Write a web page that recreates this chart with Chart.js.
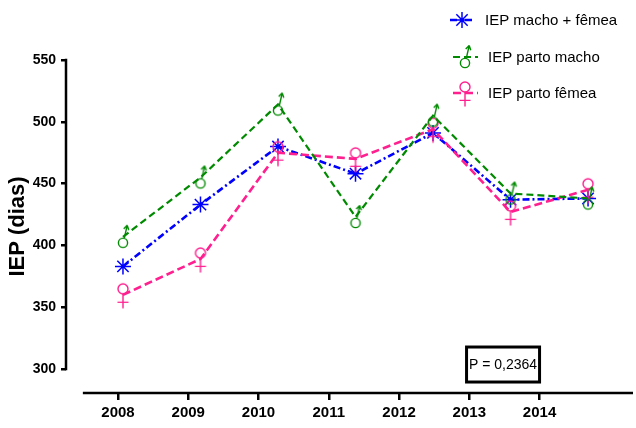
<!DOCTYPE html>
<html><head><meta charset="utf-8">
<script src="https://cdn.jsdelivr.net/npm/chart.js@4"></script>
<style>html,body{margin:0;padding:0;background:#fff}#wrap{width:636px;height:428px;position:relative}</style>
</head><body><div id="wrap"><canvas id="c" width="636" height="428"></canvas></div>
<script>
const years = [2008, 2009, 2010, 2011, 2012, 2013, 2014];
const iepMachoFemea = [383, 433, 480, 458, 491, 437, 438];
const iepPartoMacho = [407, 455, 514, 423, 505, 442, 438];
const iepPartoFemea = [360, 389, 475, 470, 494, 427, 445];
const yTicks = [300, 350, 400, 450, 500, 550];
const seriesLabels = ['IEP macho + fêmea', 'IEP parto macho', 'IEP parto fêmea'];
const yTitle = 'IEP (dias)';
const pText = 'P = 0,2364';

const SANS = "'Liberation Sans', Arial, sans-serif";
const BLUE = '#0000ff', GREEN = '#008a00', PINK = '#ff1f8f';

function maleGlyph(color) {
  const c = document.createElement('canvas'); c.width = 26; c.height = 34;
  const g = c.getContext('2d'); g.strokeStyle = color; g.lineWidth = 1.4;
  const cx = 13, cy = 23, r = 4.6;
  g.beginPath(); g.arc(cx, cy, r, 0, Math.PI * 2); g.stroke();
  const sx = cx + r * Math.cos(-1.3), sy = cy + r * Math.sin(-1.3);
  const tx = cx + 4.2, ty = cy - 17.5;
  const ang = Math.atan2(ty - sy, tx - sx);
  g.beginPath(); g.moveTo(sx, sy); g.lineTo(tx, ty);
  g.moveTo(tx, ty); g.lineTo(tx - 5 * Math.cos(ang - 0.55), ty - 5 * Math.sin(ang - 0.55));
  g.moveTo(tx, ty); g.lineTo(tx - 5 * Math.cos(ang + 0.55), ty - 5 * Math.sin(ang + 0.55));
  g.stroke();
  return c;
}
function femaleGlyph(color) {
  const c = document.createElement('canvas'); c.width = 24; c.height = 44;
  const g = c.getContext('2d'); g.strokeStyle = color; g.lineWidth = 1.4;
  const cx = 12, cy = 16, r = 5;
  g.beginPath(); g.arc(cx, cy, r, 0, Math.PI * 2); g.stroke();
  g.beginPath(); g.moveTo(cx, cy + r); g.lineTo(cx, cy + 19.5);
  g.moveTo(cx - 5.5, cy + 13.4); g.lineTo(cx + 5.5, cy + 13.4);
  g.stroke();
  return c;
}

const mk = (label, data, color, dash, width, style, radius) => ({
  label, data: years.map((y, i) => ({ x: y, y: data[i] })),
  borderColor: color, backgroundColor: color, borderDash: dash, borderWidth: width,
  pointStyle: style, pointRadius: radius, pointHoverRadius: radius, pointBorderWidth: 1.5,
  pointBorderColor: color, pointBackgroundColor: color, tension: 0, fill: false,
  xAxisID: 'x', yAxisID: 'y', clip: false
});

const datasets = [
  mk(seriesLabels[1], iepPartoMacho, GREEN, [7, 4], 2.2, maleGlyph(GREEN), 10),
  mk(seriesLabels[2], iepPartoFemea, PINK, [8, 4], 2.6, femaleGlyph(PINK), 10),
  mk(seriesLabels[0], iepMachoFemea, BLUE, [7, 3, 2, 3], 2.6, 'star', 8)
];

const legendOrder = [2, 0, 1];
const legendRows = [20, 57, 93];

const overlay = {
  id: 'overlay',
  afterDraw(chart) {
    const { ctx, chartArea } = chart;
    const ys = chart.scales.y, xs = chart.scales.x2;
    ctx.save();
    ctx.strokeStyle = '#000'; ctx.lineWidth = 2.5; ctx.setLineDash([]);
    ctx.beginPath();
    ctx.moveTo(chartArea.left, ys.getPixelForValue(yTicks[0]) + 1.25);
    ctx.lineTo(chartArea.left, ys.getPixelForValue(yTicks[yTicks.length - 1]) - 1.25);
    ctx.stroke();
    ctx.beginPath();
    ctx.moveTo(xs.getPixelForValue(years[0] - 0.5), chartArea.bottom);
    ctx.lineTo(chartArea.right, chartArea.bottom);
    ctx.stroke();
    const bx1 = xs.getPixelForValue(years[years.length - 1]);
    const bx0 = bx1 - 73;
    const by0 = ys.getPixelForValue(yTicks[0]) - 22, by1 = by0 + 35;
    ctx.lineWidth = 3;
    ctx.strokeRect(bx0, by0, bx1 - bx0, by1 - by0);
    ctx.fillStyle = '#000';
    ctx.font = "14px " + SANS;
    ctx.textAlign = 'center'; ctx.textBaseline = 'middle';
    ctx.fillText(pText, (bx0 + bx1) / 2, (by0 + by1) / 2 + 1);
    legendOrder.forEach((di, row) => {
      const d = chart.data.datasets[di];
      const yy = legendRows[row];
      const mx = row === 0 ? 462 : 465;
      ctx.strokeStyle = d.borderColor; ctx.lineWidth = d.borderWidth;
      ctx.setLineDash(d.borderDash);
      ctx.beginPath(); ctx.moveTo(mx - 12, yy); ctx.lineTo(mx + 13, yy); ctx.stroke();
      ctx.setLineDash([]);
      ctx.lineWidth = 1.5;
      Chart.helpers.drawPoint(ctx, { pointStyle: d.pointStyle, radius: d.pointRadius, rotation: 0, borderWidth: 1.5 }, mx, yy);
      ctx.fillStyle = '#000';
      ctx.font = "15px " + SANS;
      ctx.textAlign = 'left'; ctx.textBaseline = 'middle';
      ctx.fillText(d.label, row === 0 ? 485 : 488, yy + 1);
    });
    ctx.restore();
  }
};

new Chart(document.getElementById('c'), {
  type: 'line',
  data: { datasets },
  options: {
    responsive: false, animation: false, devicePixelRatio: 1,
    layout: { autoPadding: false, padding: { top: 60, right: 3, left: 0, bottom: 0 } },
    plugins: { legend: { display: false }, tooltip: { enabled: false } },
    scales: {
      x: { type: 'linear', display: false, min: 2007.265, max: 2014.58 },
      x2: {
        type: 'linear', position: 'bottom', min: 2007.26, max: 2015.33,
        afterBuildTicks: s => { s.ticks = years.map(v => ({ value: v })); },
        afterFit: s => { s.height = 35; },
        border: { display: false },
        grid: { drawOnChartArea: false, drawTicks: true, tickLength: 7, color: '#000', lineWidth: 2.5 },
        ticks: { color: '#000', font: { family: SANS, weight: 'bold', size: 15 }, padding: 4, autoSkip: false, maxRotation: 0, callback: v => String(v) }
      },
      y: {
        type: 'linear', min: 280.6, max: 550,
        afterBuildTicks: s => { s.ticks = yTicks.map(v => ({ value: v })); },
        afterFit: s => { s.width = 66; },
        border: { display: false },
        grid: { drawOnChartArea: false, drawTicks: true, tickLength: 5, color: '#000', lineWidth: 2.5 },
        ticks: { color: '#000', font: { family: SANS, weight: 'bold', size: 14 }, padding: 5, callback: v => String(v) },
        title: { display: true, text: yTitle, color: '#000', font: { family: SANS, weight: 'bold', size: 22 }, padding: { top: 5, bottom: 0 } }
      }
    }
  },
  plugins: [overlay]
});
</script>
</body></html>
